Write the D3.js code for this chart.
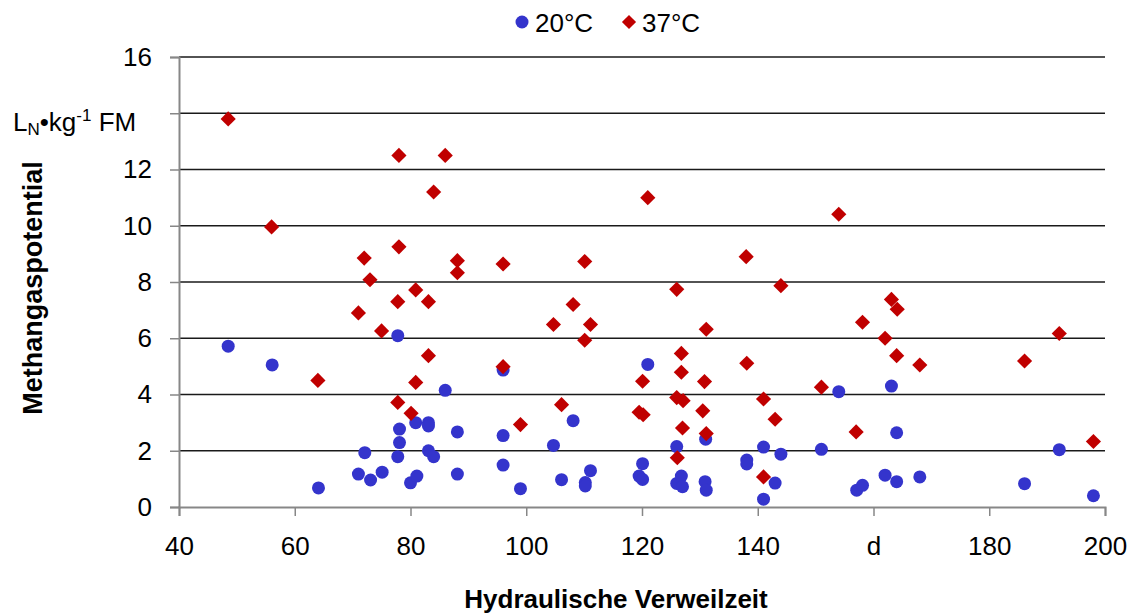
<!DOCTYPE html>
<html>
<head>
<meta charset="utf-8">
<script src="https://cdn.jsdelivr.net/npm/d3@7"></script>
<style>
  body { margin: 0; background: #fff; }
  svg { font-family: "Liberation Sans", Arial, sans-serif; }
</style>
</head>
<body>
<div id="chart"></div>
<script>
// Data: [Verweilzeit (d), Methangaspotential]
const series20 = [
  [48.5, 5.72], [56.1, 5.05], [64.1, 0.68], [71, 1.17], [72.1, 1.93], [73.1, 0.96],
  [75.1, 1.24], [77.8, 6.09], [77.8, 1.79], [78.1, 2.77], [78.1, 2.29], [80, 0.86],
  [80.9, 3.0], [81.1, 1.1], [83.1, 3.0], [83.1, 2.88], [83.1, 2.0], [84, 1.79],
  [86, 4.15], [88.1, 2.67], [88.1, 1.17], [96, 4.87], [96, 2.54], [96, 1.49],
  [99, 0.65], [104.7, 2.19], [106.1, 0.97], [108.1, 3.07], [110.2, 0.87], [110.2, 0.75],
  [111.1, 1.29], [119.5, 1.1], [120.1, 0.98], [120.1, 1.54], [121, 5.07], [126, 2.15],
  [126, 0.84], [126.8, 1.1], [127, 0.72], [131, 2.41], [130.9, 0.9], [131.1, 0.6],
  [138.1, 1.67], [138.1, 1.53], [141, 2.13], [141, 0.28], [143, 0.85], [144, 1.88],
  [151, 2.05], [154, 4.1], [157.1, 0.6], [158.1, 0.77], [162, 1.13], [163.1, 4.3],
  [164, 2.64], [164, 0.9], [168, 1.07], [186.1, 0.83], [192.1, 2.04], [198, 0.4]
];
const series37 = [
  [48.5, 13.8], [56, 9.96], [64, 4.5], [71, 6.9], [72, 8.85], [73, 8.08],
  [75, 6.26], [77.8, 7.3], [77.8, 3.72], [78, 12.5], [78, 9.25], [80.9, 7.72],
  [80.9, 4.43], [80.1, 3.33], [83.1, 7.3], [83.1, 5.38], [84, 11.2], [86, 12.5],
  [88.1, 8.76], [88.1, 8.33], [96, 8.64], [96, 4.99], [99, 2.93], [104.7, 6.49],
  [106.1, 3.64], [108.1, 7.2], [110.1, 8.73], [110.1, 5.93], [111.1, 6.49], [119.5, 3.37],
  [120.2, 3.28], [120.1, 4.47], [121, 11.0], [126, 7.74], [126.1, 1.75], [126.8, 5.46],
  [126.8, 4.79], [126, 3.89], [127.1, 3.78], [127, 2.81], [131.1, 6.32], [130.8, 4.46],
  [130.5, 3.42], [131.1, 2.61], [138, 8.9], [138.1, 5.11], [141, 3.84], [141, 1.07],
  [143, 3.12], [144, 7.87], [151, 4.26], [154, 10.41], [157, 2.67], [158.1, 6.57],
  [162, 6.0], [163.1, 7.38], [164.1, 7.03], [164, 5.38], [168, 5.05], [186.1, 5.19],
  [192.1, 6.17], [198, 2.33]
];
const xTicks = [40, 60, 80, 100, 120, 140, 160, 180, 200];
const xTickLabels = ["40", "60", "80", "100", "120", "140", "d", "180", "200"];
const yTicks = [0, 2, 4, 6, 8, 10, 12, 14, 16];
const yTickLabels = ["0", "2", "4", "6", "8", "10", "12", "", "16"];
const seriesNames = ["20°C", "37°C"];

const width = 1136;
const height = 613;
const margin = { top: 57, right: 31, bottom: 106, left: 179 };
const blue = "#3434CC";
const red = "#C00000";
const font = "Liberation Sans, Arial, sans-serif";

const svg = d3.select("#chart")
  .append("svg")
  .attr("width", width)
  .attr("height", height);

const xScale = d3.scaleLinear()
  .domain([40, 200])
  .range([margin.left, width - margin.right]);

const yScale = d3.scaleLinear()
  .domain([0, 16])
  .range([height - margin.bottom, margin.top]);

// gridlines
svg.append("g")
  .selectAll("line")
  .data(yTicks.filter(d => d > 0))
  .enter()
  .append("line")
  .attr("x1", margin.left)
  .attr("x2", width - margin.right)
  .attr("y1", d => yScale(d))
  .attr("y2", d => yScale(d))
  .attr("stroke", "#1a1a1a")
  .attr("stroke-width", 1.5);

// y-axis
const yAxis = svg.append("g")
  .attr("transform", `translate(${margin.left},0)`)
  .call(d3.axisLeft(yScale).tickValues(yTicks).tickSize(9).tickPadding(18)
    .tickFormat((d, i) => yTickLabels[i]));
yAxis.select(".domain").attr("stroke", "#878787").attr("stroke-width", 2);
yAxis.selectAll(".tick line").attr("stroke", "#878787").attr("stroke-width", 1.5);
yAxis.selectAll(".tick text").attr("font-size", 26).attr("fill", "#000")
  .attr("font-family", font);

// x-axis
const xAxis = svg.append("g")
  .attr("transform", `translate(0,${height - margin.bottom})`)
  .call(d3.axisBottom(xScale).tickValues(xTicks).tickSize(9).tickPadding(21)
    .tickFormat((d, i) => xTickLabels[i]));
xAxis.select(".domain").attr("stroke", "#878787").attr("stroke-width", 2);
xAxis.selectAll(".tick line").attr("stroke", "#878787").attr("stroke-width", 1.5);
xAxis.selectAll(".tick text").attr("font-size", 26).attr("fill", "#000")
  .attr("font-family", font);

// points
const diamond = d3.symbol().type(d3.symbolSquare).size(115);

svg.append("g")
  .selectAll("circle")
  .data(series20)
  .enter()
  .append("circle")
  .attr("cx", d => xScale(d[0]))
  .attr("cy", d => yScale(d[1]))
  .attr("r", 6.5)
  .attr("fill", blue);

svg.append("g")
  .selectAll("path")
  .data(series37)
  .enter()
  .append("path")
  .attr("d", diamond)
  .attr("transform", d => `translate(${xScale(d[0])},${yScale(d[1])}) rotate(45)`)
  .attr("fill", red);

// unit label
const unit = svg.append("text")
  .attr("x", 13)
  .attr("y", 131)
  .attr("font-size", 26)
  .attr("fill", "#000");
unit.append("tspan").text("L");
unit.append("tspan").text("N").attr("font-size", 17).attr("dy", 4);
unit.append("tspan").text("•kg").attr("dy", -4);
unit.append("tspan").text("-1").attr("font-size", 17).attr("dy", -10);
unit.append("tspan").text(" FM").attr("dy", 10);

// axis titles
svg.append("text")
  .attr("x", 616)
  .attr("y", 608)
  .attr("text-anchor", "middle")
  .attr("font-size", 26)
  .attr("font-weight", "bold")
  .text("Hydraulische Verweilzeit");

svg.append("text")
  .attr("transform", "translate(42,288) rotate(-90)")
  .attr("text-anchor", "middle")
  .attr("font-size", 27)
  .attr("font-weight", "bold")
  .text("Methangaspotential");

// legend
const legend = svg.append("g");
legend.append("circle").attr("cx", 522).attr("cy", 22).attr("r", 6.5).attr("fill", blue);
legend.append("text").attr("x", 535).attr("y", 32).attr("font-size", 26).text(seriesNames[0]);
legend.append("path")
  .attr("d", d3.symbol().type(d3.symbolSquare).size(100))
  .attr("transform", "translate(629,22) rotate(45)")
  .attr("fill", red);
legend.append("text").attr("x", 642).attr("y", 32).attr("font-size", 26).text(seriesNames[1]);
</script>
</body>
</html>
